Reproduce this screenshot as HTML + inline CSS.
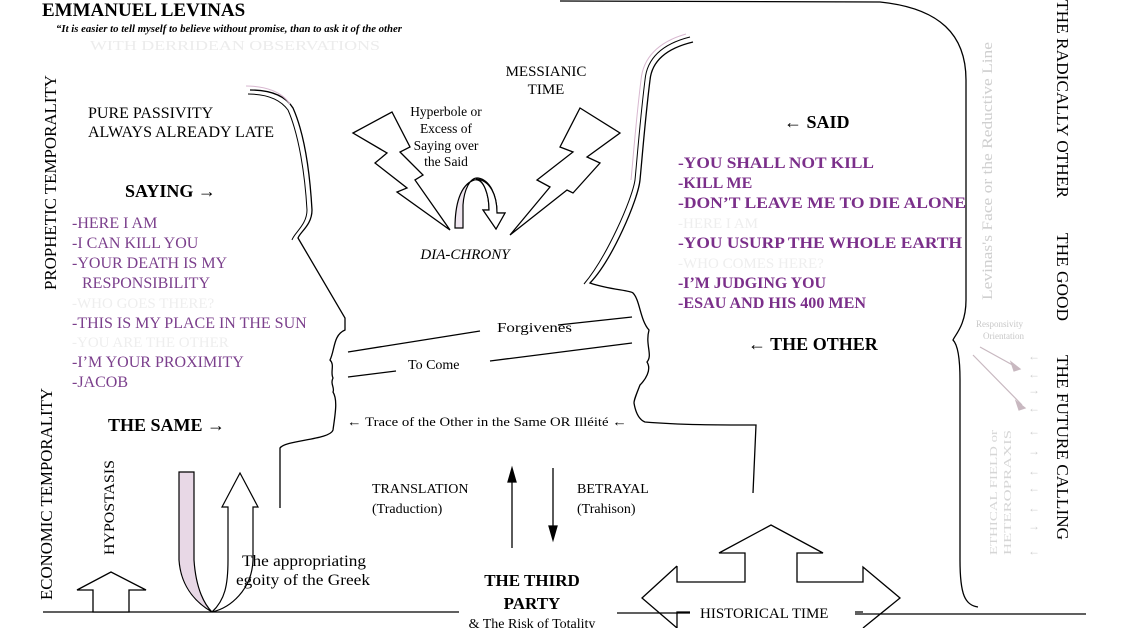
<!DOCTYPE html>
<html><head><meta charset="utf-8"><style>
html,body{margin:0;padding:0;background:#fff;}
svg{display:block;}
text{font-family:"Liberation Serif",serif;}
</style></head><body>
<svg width="1124" height="628" viewBox="0 0 1124 628" xmlns="http://www.w3.org/2000/svg">
<rect width="1124" height="628" fill="#fff"/>
<!-- title -->
<text x="42" y="16" font-size="19" font-weight="bold">EMMANUEL LEVINAS</text>
<text x="56" y="32" font-size="10.5" font-weight="bold" font-style="italic" textLength="346" lengthAdjust="spacingAndGlyphs">“It is easier to tell myself to believe without promise, than to ask it of the other</text>
<text x="90" y="50" font-size="14" fill="#ececec" textLength="290" lengthAdjust="spacingAndGlyphs">WITH DERRIDEAN OBSERVATIONS</text>

<!-- vertical left labels -->
<text transform="translate(56,290) rotate(-90)" font-size="17" textLength="215" lengthAdjust="spacingAndGlyphs">PROPHETIC TEMPORALITY</text>
<text transform="translate(52,600) rotate(-90)" font-size="17" textLength="212" lengthAdjust="spacingAndGlyphs">ECONOMIC TEMPORALITY</text>
<text transform="translate(114,555) rotate(-90)" font-size="15" textLength="95" lengthAdjust="spacingAndGlyphs">HYPOSTASIS</text>

<!-- vertical right labels -->
<text transform="translate(1057,0) rotate(90)" font-size="17" textLength="198" lengthAdjust="spacingAndGlyphs">THE RADICALLY OTHER</text>
<text transform="translate(1057,233) rotate(90)" font-size="17" textLength="88" lengthAdjust="spacingAndGlyphs">THE GOOD</text>
<text transform="translate(1057,355) rotate(90)" font-size="17" textLength="185" lengthAdjust="spacingAndGlyphs">THE FUTURE CALLING</text>
<text transform="translate(992,300) rotate(-90)" font-size="15" fill="#cfcfcf" textLength="258" lengthAdjust="spacingAndGlyphs">Levinas's Face or the Reductive Line</text>
<text transform="translate(997,555) rotate(-90)" font-size="11" fill="#d6d6d6" textLength="125" lengthAdjust="spacingAndGlyphs">ETHICAL FIELD or</text>
<text transform="translate(1011,555) rotate(-90)" font-size="11" fill="#d6d6d6" textLength="125" lengthAdjust="spacingAndGlyphs">HETEROPRAXIS</text>
<text x="976" y="327" font-size="9" fill="#c8c8c8">Responsivity</text>
<text x="983" y="339" font-size="9" fill="#c8c8c8">Orientation</text>
<g stroke="#c8b8c0" stroke-width="1.2" fill="#c8b8c0">
<line x1="980" y1="347" x2="1018" y2="368"/><polygon points="1020,369 1011,362 1014,371"/>
<line x1="973" y1="355" x2="1022" y2="405"/><polygon points="1025,408 1016,401 1019,410"/>
</g>
<g font-size="12" fill="#d0d0d0">
<text x="1028" y="360">←</text><text x="1028" y="378">←</text><text x="1028" y="394">→</text><text x="1028" y="412">←</text>
<text x="1028" y="435">←</text><text x="1028" y="455">→</text><text x="1028" y="475">←</text><text x="1028" y="492">←</text>
<text x="1028" y="512">←</text><text x="1028" y="530">→</text><text x="1028" y="555">←</text>
</g>

<!-- left text -->
<text x="88" y="118" font-size="16">PURE PASSIVITY</text>
<text x="88" y="137" font-size="16">ALWAYS ALREADY LATE</text>
<text x="125" y="197" font-size="18" font-weight="bold">SAYING →</text>
<g font-size="16" fill="#7b3f8c">
<text x="72" y="228">-HERE I AM</text>
<text x="72" y="248">-I CAN KILL YOU</text>
<text x="72" y="268">-YOUR DEATH IS MY</text>
<text x="82" y="288">RESPONSIBILITY</text>
<text x="72" y="328">-THIS IS MY PLACE IN THE SUN</text>
<text x="72" y="367">-I’M YOUR PROXIMITY</text>
<text x="72" y="387">-JACOB</text>
</g>
<text x="72" y="308" font-size="15" fill="#eee">-WHO GOES THERE?</text>
<text x="72" y="347" font-size="15" fill="#eee">-YOU ARE THE OTHER</text>
<text x="108" y="431" font-size="18" font-weight="bold">THE SAME →</text>

<!-- right text -->
<text x="784" y="128" font-size="18" font-weight="bold">← SAID</text>
<g font-size="16" font-weight="bold" fill="#7b2f8a">
<text x="678" y="168" textLength="196" lengthAdjust="spacingAndGlyphs">-YOU SHALL NOT KILL</text>
<text x="678" y="188">-KILL ME</text>
<text x="678" y="208" textLength="288" lengthAdjust="spacingAndGlyphs">-DON’T LEAVE ME TO DIE ALONE</text>
<text x="678" y="248" textLength="284" lengthAdjust="spacingAndGlyphs">-YOU USURP THE WHOLE EARTH</text>
<text x="678" y="288" textLength="148" lengthAdjust="spacingAndGlyphs">-I’M JUDGING YOU</text>
<text x="678" y="308" textLength="188" lengthAdjust="spacingAndGlyphs">-ESAU AND HIS 400 MEN</text>
</g>
<text x="678" y="228" font-size="15" fill="#eee">-HERE I AM</text>
<text x="678" y="268" font-size="15" fill="#eee">-WHO COMES HERE?</text>
<text x="748" y="350" font-size="18" font-weight="bold">← THE OTHER</text>

<!-- center text -->
<text x="546" y="76" font-size="15" text-anchor="middle">MESSIANIC</text>
<text x="546" y="94" font-size="15" text-anchor="middle">TIME</text>
<g font-size="13.5" text-anchor="middle">
<text x="446" y="116">Hyperbole or</text><text x="446" y="133">Excess of</text>
<text x="446" y="150">Saying over</text><text x="446" y="166">the Said</text>
</g>
<text x="465" y="259" font-size="15" font-style="italic" text-anchor="middle">DIA-CHRONY</text>
<text x="497" y="332" font-size="14" textLength="75" lengthAdjust="spacingAndGlyphs">Forgivenes</text>
<text x="408" y="369" font-size="14">To Come</text>
<text x="347" y="426" font-size="13" textLength="280" lengthAdjust="spacingAndGlyphs">← Trace of the Other in the Same OR Illéité ←</text>
<text x="372" y="493" font-size="14">TRANSLATION</text>
<text x="372" y="513" font-size="14">(Traduction)</text>
<text x="577" y="493" font-size="14">BETRAYAL</text>
<text x="577" y="513" font-size="14">(Trahison)</text>
<text x="532" y="586" font-size="17" font-weight="bold" text-anchor="middle">THE THIRD</text>
<text x="532" y="609" font-size="17" font-weight="bold" text-anchor="middle">PARTY</text>
<text x="532" y="628" font-size="14" text-anchor="middle">&amp; The Risk of Totality</text>
<text x="700" y="618" font-size="15">HISTORICAL TIME</text>

<!-- lines -->
<g stroke="#000" stroke-width="1.3" fill="none">
<line x1="43" y1="612" x2="459" y2="612"/>
<line x1="617" y1="613" x2="690" y2="613"/>
<line x1="855" y1="614" x2="1086" y2="614"/>
<line x1="348" y1="352" x2="480" y2="331"/>
<line x1="558" y1="325" x2="632" y2="317"/>
<line x1="348" y1="377" x2="396" y2="371"/>
<line x1="490" y1="361" x2="632" y2="343"/>
<path d="M560,1 L880,2 C940,8 966,35 966,80 L966,300 C966,325 955,335 953,340 C958,345 960,360 960,380 L960,560 C960,595 965,605 978,607"/>
<path d="M250,90 C270,90 285,95 293,108 C305,135 310,175 312,210 C312,225 300,232 298,238 L345,318 L345,330 C333,335 335,350 330,360 C335,365 330,372 333,378 C330,384 335,388 333,392 C338,400 335,415 333,430 C330,440 285,440 280,448 L280,508"/>
<path d="M248,94 C266,94 280,99 288,110 C299,135 305,175 307,210 C307,225 294,233 292,240" stroke-width="1"/>
<path d="M693,42 C668,48 652,60 650,80 C645,120 642,160 640,180 C638,200 612,260 590,283 C610,290 630,290 633,293 C640,300 640,320 649,330 C645,345 653,355 647,362 C652,370 645,380 640,385 C636,395 634,400 634,403 C636,415 640,420 645,422 C680,425 720,425 756,425 L753,493"/>
<path d="M690,37 C662,44 647,58 645,80 C640,120 637,160 635,180 C632,200 606,258 584,284" stroke-width="1"/>
</g>
<path d="M246,86 C266,86 282,92 290,104" stroke="#d8b8d0" stroke-width="1" fill="none"/>
<path d="M686,34 C658,42 643,58 641,80 C636,120 633,160 631,180" stroke="#d8b8d0" stroke-width="1" fill="none"/>

<!-- bolts -->
<g stroke="#000" stroke-width="1.3" fill="#fff">
<polygon points="353,133 392,112 410,147 400,152 423,175 415,180 450,230 397,192 407,188 375,163 387,153"/>
<polygon points="620,133 580,108 560,147 573,152 537,180 550,187 510,235 567,190 573,193 600,163 587,157"/>
</g>
<path d="M455,228 C455,205 460,185 474,180 C484,178 489,195 489,210 L483,210 L496,229 L505,213 L497,213 C497,195 490,180 478,178 C470,177 464,190 463,205 L463,228 Z" fill="#efe6ef" stroke="#000" stroke-width="1.2"/>
<path d="M476,179 C484,180 489,195 489,210 L483,210 L496,229 L505,213 L497,213 C497,195 490,180 476,179 Z" fill="#fff" stroke="#000" stroke-width="1.2"/>

<g stroke="#000" stroke-width="1.3" fill="#000">
<line x1="512" y1="548" x2="512" y2="478"/><polygon points="512,468 508,482 516,482"/>
<line x1="553" y1="468" x2="553" y2="530"/><polygon points="553,540 549,526 557,526"/>
</g>

<polygon points="93,612 93,590 77,590 111,572 146,590 129,590 129,612" fill="#fff" stroke="#000" stroke-width="1.3"/>
<path d="M179,472 L194,472 L194,560 C196,590 205,605 212,612 C200,605 181,590 179,560 Z" fill="#e8d8e6" stroke="#000" stroke-width="1.2"/>
<path d="M212,612 C225,600 228,585 228,560 L228,507 L222,507 L240,473 L258,507 L253,507 L253,560 C252,590 230,608 212,612" fill="#fff" stroke="#000" stroke-width="1.2"/>
<path d="M690,612 L677,612 L677,628 M677,566 L677,582 L745,582 L745,553 L719,553 L771,525 L823,553 L797,553 L797,582 L863,582 L863,567 L900,598 L863,628 M863,612 L855,612 M677,566 L642,598 L677,628" fill="none" stroke="#000" stroke-width="1.3"/>
<text x="242" y="566" font-size="15.5" textLength="124" lengthAdjust="spacingAndGlyphs">The appropriating</text>
<text x="236" y="585" font-size="15.5" textLength="134" lengthAdjust="spacingAndGlyphs">egoity of the Greek</text>
</svg>
</body></html>
